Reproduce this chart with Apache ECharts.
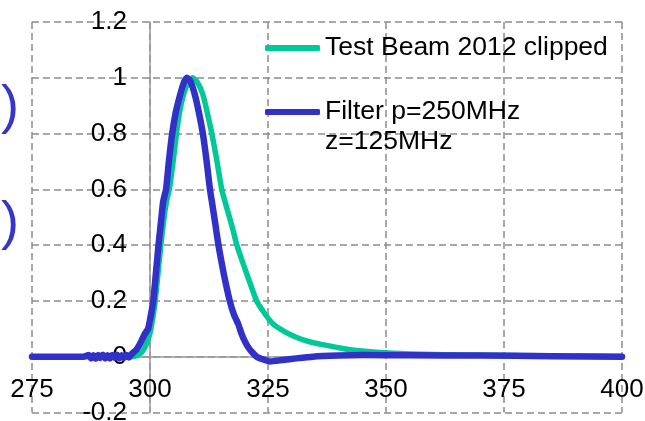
<!DOCTYPE html>
<html>
<head>
<meta charset="utf-8">
<script src="https://cdn.jsdelivr.net/npm/echarts@6/dist/echarts.min.js"></script>
<style>html,body{margin:0;padding:0;background:#fff}#c{width:645px;height:421px}</style>
</head>
<body>
<div id="c"></div>
<script>
// ---- data ----
var xTicks = [275, 300, 325, 350, 375, 400];
var yTicks = [-0.2, 0, 0.2, 0.4, 0.6, 0.8, 1, 1.2];
var beamName = 'Test Beam 2012 clipped';
var filterName = 'Filter p=250MHz\nz=125MHz';

var beamT = [275, 290, 296, 297, 298, 299, 300, 300.6, 301.1, 301.7, 302.3, 302.9, 303.5, 304.1, 304.9, 305.6, 306.3, 307.1, 308, 309, 310, 311.2, 312.2, 313.1, 314.2, 315.2, 316.5, 317.5, 318.4, 319.6, 320.8, 321.7, 322.6, 324.3, 326.1, 328.5, 331.1, 333.5, 336, 341.7, 348.7, 355, 365, 375, 390, 400];
var beamV = [0, 0, 0, 0.003, 0.012, 0.035, 0.085, 0.14, 0.2, 0.3, 0.4, 0.49, 0.557, 0.6, 0.7, 0.8, 0.88, 0.94, 0.98, 1.0, 0.985, 0.94, 0.87, 0.8, 0.7, 0.6, 0.52, 0.46, 0.4, 0.34, 0.283, 0.24, 0.2, 0.155, 0.117, 0.09, 0.069, 0.055, 0.045, 0.027, 0.015, 0.01, 0.006, 0.004, 0.002, 0.001];

var filterT = [275, 286, 287, 287.5, 288, 288.5, 289, 289.5, 290, 290.5, 291, 291.5, 292, 292.5, 293, 293.5, 294, 294.5, 295, 295.5, 296, 297.2, 298, 298.9, 299.6, 300.2, 300.7, 301.2, 301.8, 302.3, 302.8, 303.4, 304.0, 304.7, 305.5, 306.4, 307.1, 307.8, 308.5, 309.5, 310.3, 311.2, 312.0, 312.7, 313.1, 313.8, 314.5, 315.6, 316.9, 317.8, 318.7, 319.4, 320.1, 320.8, 321.7, 322.6, 324, 325.5, 328, 331, 334.5, 340, 345, 355, 370, 385, 400];
var filterV = [0, 0, 0.006, -0.006, 0.005, -0.007, 0.006, -0.005, 0.007, -0.006, 0.005, -0.006, 0.006, -0.005, 0.007, -0.006, 0.005, -0.005, 0.006, -0.003, 0.008, 0.027, 0.05, 0.082, 0.1, 0.15, 0.2, 0.29, 0.4, 0.48, 0.557, 0.6, 0.7, 0.8, 0.88, 0.94, 0.98, 1.0, 0.99, 0.94, 0.88, 0.8, 0.7, 0.6, 0.557, 0.48, 0.4, 0.3, 0.2, 0.15, 0.117, 0.082, 0.055, 0.034, 0.015, 0.0, -0.01, -0.017, -0.012, -0.006, 0.0, 0.004, 0.006, 0.005, 0.004, 0.002, 0.0];

function pairs(t, v) { return t.map(function (x, i) { return [x, v[i]]; }); }

var FONT = 'Liberation Sans, Arial, sans-serif';
var chart = echarts.init(document.getElementById('c'), null, {renderer: 'canvas'});
var gridLine = {show: true, lineStyle: {color: '#8c8c8c', type: [7, 4], width: 1.5}};
var GRID_BOTTOM = 8.5, GRID_TOP = 22, H = 421;
var plotH = H - GRID_TOP - GRID_BOTTOM;
// distance from grid bottom to the y = 0 line, derived from the axis range
var zeroOffset = (0 - yTicks[0]) / (yTicks[yTicks.length - 1] - yTicks[0]) * plotH;
chart.setOption({
  animation: false,
  backgroundColor: '#ffffff',
  grid: {left: 32, right: 23, top: GRID_TOP, bottom: GRID_BOTTOM, containLabel: false, outerBoundsMode: 'none'},
  xAxis: {
    type: 'value', min: xTicks[0], max: xTicks[xTicks.length - 1], interval: xTicks[1] - xTicks[0],
    position: 'bottom', offset: -zeroOffset,
    axisLine: {show: true, onZero: false, lineStyle: {color: '#999999', width: 1.5}},
    axisTick: {show: false},
    axisLabel: {show: true, color: '#000', fontSize: 26, fontFamily: FONT, margin: 20, showMinLabel: true, showMaxLabel: true, hideOverlap: false},
    splitLine: gridLine
  },
  yAxis: {
    type: 'value', min: yTicks[0], max: yTicks[yTicks.length - 1], interval: yTicks[1] - yTicks[0],
    position: 'left', offset: -118,
    axisLine: {show: true, onZero: false, lineStyle: {color: '#999999', width: 1.5}},
    axisTick: {show: false},
    axisLabel: {color: '#000', fontSize: 26, fontFamily: FONT, margin: 23, showMinLabel: true, showMaxLabel: true},
    splitLine: gridLine
  },
  legend: [{
    data: [beamName], orient: 'vertical', left: 265, top: 33, padding: 0,
    icon: 'roundRect', itemWidth: 55, itemHeight: 6,
    textStyle: {color: '#000', fontSize: 26.5, fontFamily: FONT, lineHeight: 30}
  }, {
    data: [filterName], orient: 'vertical', left: 265, top: 67, padding: 0,
    icon: 'roundRect', itemWidth: 55, itemHeight: 6,
    formatter: function (n) { return '\n' + n; },
    textStyle: {color: '#000', fontSize: 26.5, fontFamily: FONT, lineHeight: 30}
  }],
  graphic: [
    {type: 'text', x: 1, y: 108, style: {text: ')', fill: '#3636c8', font: '54px ' + FONT, verticalAlign: 'middle'}},
    {type: 'text', x: 1, y: 224, style: {text: ')', fill: '#3636c8', font: '54px ' + FONT, verticalAlign: 'middle'}}
  ],
  series: [{
    name: beamName, type: 'line', data: pairs(beamT, beamV), symbol: 'none', smooth: 0.2,
    lineStyle: {color: '#00c896', width: 5.5, cap: 'round', join: 'round'}, itemStyle: {color: '#00c896'}
  }, {
    name: filterName, type: 'line', data: pairs(filterT, filterV), symbol: 'none', smooth: 0.15,
    lineStyle: {color: '#3131c8', width: 6.5, cap: 'round', join: 'round'}, itemStyle: {color: '#3131c8'}
  }]
});
</script>
</body>
</html>
